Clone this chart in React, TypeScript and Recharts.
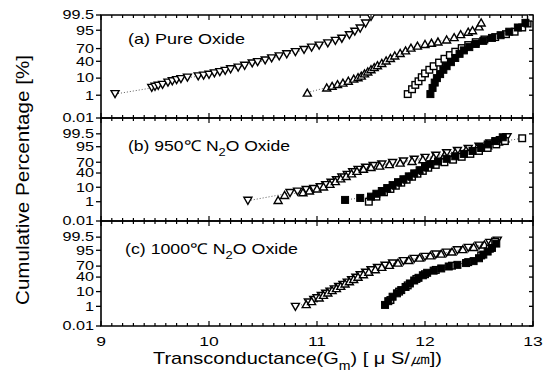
import React from 'react';
import { ScatterChart, Scatter, XAxis, YAxis, ReferenceArea } from 'recharts';

// ---------- data (x = transconductance, p = cumulative %) ----------
const aDownX = [9.13, 9.47, 9.5, 9.53, 9.57, 9.62, 9.66, 9.7, 9.74, 9.8, 9.9, 9.95, 10.0, 10.05, 10.1, 10.15, 10.2, 10.27, 10.33, 10.4, 10.45, 10.52, 10.58, 10.65, 10.72, 10.8, 10.88, 10.95, 11.02, 11.1, 11.17, 11.23, 11.3, 11.35, 11.4, 11.45, 11.5];
const aDownP = [1.2, 3, 3.5, 4, 4.5, 6, 7, 8, 9, 10.5, 12, 13, 14, 16, 18, 20, 23, 26, 30, 35, 38, 42, 47, 52, 57, 62, 67, 72, 76, 80, 84, 87, 91, 94, 96, 98, 99.3];
const aUpX = [10.91, 11.09, 11.14, 11.19, 11.24, 11.29, 11.34, 11.38, 11.41, 11.44, 11.47, 11.5, 11.53, 11.56, 11.6, 11.64, 11.68, 11.72, 11.77, 11.82, 11.87, 11.93, 12.0, 12.06, 12.12, 12.2, 12.27, 12.33, 12.4, 12.44, 12.5, 12.52];
const aUpP = [1.5, 3.2, 4, 5, 6, 7.5, 9.5, 11, 13, 16, 19, 23, 27, 31, 36, 42, 48, 54, 60, 66, 72, 76, 79, 81, 83, 86, 89, 92, 94, 95, 97, 98.3];
const aOpenSqX = [11.84, 11.88, 11.91, 11.94, 11.97, 12.0, 12.04, 12.08, 12.13, 12.18, 12.23, 12.28, 12.34, 12.4, 12.47, 12.55, 12.65, 12.75, 12.83, 12.9, 12.95, 12.98];
const aOpenSqP = [1.2, 2.5, 4.5, 7, 11, 16, 22, 29, 37, 46, 55, 63, 71, 77, 82, 86, 89, 92, 94, 96.5, 98, 99.2];
const aFillSqX = [12.05, 12.07, 12.09, 12.11, 12.14, 12.17, 12.2, 12.24, 12.28, 12.32, 12.36, 12.41, 12.47, 12.54, 12.62, 12.7, 12.78, 12.86, 12.93];
const aFillSqP = [1.2, 3, 6, 10, 15, 22, 29, 38, 48, 58, 66, 73, 79, 84, 88, 91, 94, 96.5, 98.2];

const bDownX = [10.36, 10.75, 10.82, 10.9, 10.97, 11.03, 11.08, 11.13, 11.18, 11.23, 11.28, 11.33, 11.38, 11.45, 11.52, 11.6, 11.7, 11.8, 11.9, 12.0, 12.1, 12.2, 12.3, 12.4, 12.5, 12.6, 12.7, 12.76];
const bDownP = [1.2, 4.5, 5.5, 7, 8, 10, 13, 17, 22, 28, 35, 42, 49, 55, 60, 64, 68, 72, 76, 80, 84, 88, 91, 93, 95, 97, 98.3, 99];
const bUpX = [10.64, 10.7, 10.87, 10.93, 11.0, 11.06, 11.12, 11.17, 11.22, 11.27, 11.32, 11.37, 11.43, 11.5, 11.58, 11.67, 11.77, 11.88, 11.98, 12.08, 12.18, 12.28, 12.38, 12.48, 12.58, 12.68, 12.74];
const bUpP = [1.4, 3.3, 5, 6.5, 8.5, 11, 15, 20, 26, 32, 39, 46, 52, 57, 61, 65, 69, 73, 77, 81, 85, 89, 92, 94, 96, 97.8, 98.8];
const bFillSqX = [11.26, 11.4, 11.5, 11.55, 11.6, 11.65, 11.7, 11.75, 11.8, 11.85, 11.9, 11.95, 12.0, 12.05, 12.12, 12.2, 12.28, 12.36, 12.44, 12.52, 12.58, 12.65, 12.72];
const bFillSqP = [1.4, 2, 2.5, 4, 6, 9, 13, 18, 24, 31, 39, 48, 57, 65, 72, 78, 83, 87, 91, 94, 96.5, 98, 99];
const bOpenSqX = [11.48, 11.55, 11.62, 11.68, 11.73, 11.78, 11.83, 11.88, 11.93, 11.98, 12.03, 12.1, 12.18, 12.26, 12.34, 12.42, 12.5, 12.58, 12.66, 12.74, 12.9];
const bOpenSqP = [1, 2.5, 5, 8, 12, 17, 23, 30, 38, 46, 55, 63, 70, 76, 82, 87, 91, 94, 96.5, 98, 98.8];

const cDownX = [10.8, 10.92, 10.97, 11.0, 11.04, 11.08, 11.12, 11.16, 11.2, 11.24, 11.28, 11.32, 11.36, 11.4, 11.45, 11.5, 11.56, 11.63, 11.7, 11.8, 11.9, 12.0, 12.1, 12.2, 12.3, 12.4, 12.5, 12.6, 12.67];
const cDownP = [0.9, 2, 3, 4, 5.5, 7.5, 10, 13, 17, 21, 26, 32, 38, 45, 52, 59, 65, 71, 76, 81, 85, 88, 91, 93, 95, 96.5, 97.6, 98.5, 99];
const cUpX = [10.9, 10.95, 11.02, 11.06, 11.1, 11.14, 11.18, 11.22, 11.26, 11.3, 11.34, 11.38, 11.43, 11.48, 11.54, 11.6, 11.67, 11.75, 11.85, 11.95, 12.05, 12.15, 12.25, 12.35, 12.45, 12.55, 12.62];
const cUpP = [1.5, 2.5, 4.5, 6.5, 9, 12, 15, 19, 24, 29, 35, 41, 48, 55, 62, 68, 73, 78, 83, 87, 90, 92, 94, 95.8, 97, 98, 98.8];
const cFillSqX = [11.63, 11.66, 11.7, 11.74, 11.78, 11.82, 11.86, 11.9, 11.94, 11.98, 12.02, 12.08, 12.15, 12.22, 12.3, 12.38, 12.45, 12.5, 12.54, 12.58, 12.62, 12.66];
const cFillSqP = [1.3, 2.5, 5, 8, 12, 17, 24, 31, 38, 45, 52, 58, 64, 69, 73, 77, 81, 86, 91, 94, 96.5, 98.3];
const cOpenSqX = [11.68, 11.76, 11.84, 11.92, 12.0, 12.1, 12.25, 12.4, 12.52, 12.6, 12.65];
const cOpenSqP = [3, 10, 20, 35, 48, 60, 71, 79, 90, 96, 98.8];

// ---------- axis ticks ----------
const Y_TICK_PCT = [0.01, 1, 10, 40, 70, 95, 99.5];
const Y_TICK_LABELS = ['0.01', '1', '10', '40', '70', '95', '99.5'];
const X_MAJOR = [9, 10, 11, 12, 13];
const X_MINOR_STEP = 0.1;

const FONT = 'Liberation Sans, Arial, Helvetica, sans-serif';

// inverse normal CDF (probability-paper scale)
function probit(p: number): number {
  const a = [-3.969683028665376e1, 2.209460984245205e2, -2.759285104469687e2, 1.38357751867269e2, -3.066479806614716e1, 2.506628277459239];
  const b = [-5.447609879822406e1, 1.615858368580409e2, -1.556989798598866e2, 6.680131188771972e1, -1.328068155288572e1];
  const c = [-7.784894002430293e-3, -3.223964580411365e-1, -2.400758277161838, -2.549732539343734, 4.374664141464968, 2.938163982698783];
  const d = [7.784695709041462e-3, 3.224671290700398e-1, 2.445134137142996, 3.754408661907416];
  const pl = 0.02425;
  if (p < pl) {
    const q = Math.sqrt(-2 * Math.log(p));
    return (((((c[0] * q + c[1]) * q + c[2]) * q + c[3]) * q + c[4]) * q + c[5]) / ((((d[0] * q + d[1]) * q + d[2]) * q + d[3]) * q + 1);
  }
  if (p <= 1 - pl) {
    const q = p - 0.5;
    const r = q * q;
    return ((((((a[0] * r + a[1]) * r + a[2]) * r + a[3]) * r + a[4]) * r + a[5]) * q) / (((((b[0] * r + b[1]) * r + b[2]) * r + b[3]) * r + b[4]) * r + 1);
  }
  const q = Math.sqrt(-2 * Math.log(1 - p));
  return -(((((c[0] * q + c[1]) * q + c[2]) * q + c[3]) * q + c[4]) * q + c[5]) / ((((d[0] * q + d[1]) * q + d[2]) * q + d[3]) * q + 1);
}

const Y_TICK_Z = Y_TICK_PCT.map((v) => probit(v / 100));
const X_TICKS: number[] = [];
for (let k = 0; k <= Math.round((X_MAJOR[X_MAJOR.length - 1] - X_MAJOR[0]) / X_MINOR_STEP); k++) {
  X_TICKS.push(Math.round((X_MAJOR[0] + k * X_MINOR_STEP) * 10) / 10);
}

const mk = (xs: number[], ps: number[]) => xs.map((x, i) => ({ x, y: probit(ps[i] / 100) }));

// ---------- markers ----------
const SW = 1.4;
const DownTri = (p: any) => {
  const { cx, cy } = p;
  if (cx == null || cy == null) return <g />;
  return <polygon points={`${cx - 4},${cy - 3.5} ${cx + 4},${cy - 3.5} ${cx},${cy + 3.5}`} fill="#fff" stroke="#000" strokeWidth={SW} />;
};
const UpTri = (p: any) => {
  const { cx, cy } = p;
  if (cx == null || cy == null) return <g />;
  return <polygon points={`${cx - 4},${cy + 3.5} ${cx + 4},${cy + 3.5} ${cx},${cy - 3.5}`} fill="#fff" stroke="#000" strokeWidth={SW} />;
};
const OpenSq = (p: any) => {
  const { cx, cy } = p;
  if (cx == null || cy == null) return <g />;
  return <rect x={cx - 3.3} y={cy - 3.3} width={6.6} height={6.6} fill="#fff" stroke="#000" strokeWidth={SW} />;
};
const FillSq = (p: any) => {
  const { cx, cy } = p;
  if (cx == null || cy == null) return <g />;
  return <rect x={cx - 3.5} y={cy - 3.5} width={7} height={7} fill="#000" stroke="#000" strokeWidth={1} />;
};

// ---------- ticks ----------
const LeftTick = (props: any) => {
  const { x, y, payload } = props;
  const idx = Y_TICK_Z.findIndex((v) => Math.abs(v - payload.value) < 1e-6);
  return (
    <g>
      <line x1={x - 5} y1={y} x2={x} y2={y} stroke="#000" strokeWidth={1.3} />
      <g transform={`translate(${x - 7},${y}) scale(1.35,1)`}>
        <text x={0} y={0} dy="0.36em" textAnchor="end" fontSize={12} fontFamily={FONT} fill="#000">
          {idx >= 0 ? Y_TICK_LABELS[idx] : ''}
        </text>
      </g>
    </g>
  );
};
const RightTick = (props: any) => {
  const { x, y } = props;
  return <line x1={x - 4} y1={y} x2={x} y2={y} stroke="#000" strokeWidth={1.3} />;
};
const isMajor = (v: number) => X_MAJOR.some((m) => Math.abs(m - v) < 1e-6);
const TopTick = (props: any) => {
  const { x, y, payload } = props;
  const len = isMajor(payload.value) ? 5 : 3;
  return <line x1={x} y1={y} x2={x} y2={y + len} stroke="#000" strokeWidth={1.2} />;
};
const BottomTick = (props: any) => {
  const { x, y, payload } = props;
  const len = isMajor(payload.value) ? 5 : 3;
  return <line x1={x} y1={y} x2={x} y2={y - len} stroke="#000" strokeWidth={1.2} />;
};
const BottomTickLabeled = (props: any) => {
  const { x, y, payload } = props;
  const major = isMajor(payload.value);
  return (
    <g>
      <line x1={x} y1={y} x2={x} y2={y - (major ? 5 : 3)} stroke="#000" strokeWidth={1.2} />
      {major && (
        <g transform={`translate(${x},${y + 20}) scale(1.3,1)`}>
          <text x={0} y={0} textAnchor="middle" fontSize={13.5} fontFamily={FONT} fill="#000">
            {String(payload.value)}
          </text>
        </g>
      )}
    </g>
  );
};

// ---------- panels ----------
const W = 546;
const H = 374;
const LEFT_W = 101;
const RIGHT_W = 13;
const dotted = { stroke: '#333', strokeWidth: 0.8, strokeDasharray: '1 2' };

type SeriesDef = { data: { x: number; y: number }[]; shape: (p: any) => React.ReactElement };
type PanelDef = { top: number; bottom: number; pMax: number; series: SeriesDef[]; labeled: boolean };

const PANELS: PanelDef[] = [
  {
    top: 15,
    bottom: 118,
    pMax: 99.5,
    labeled: false,
    series: [
      { data: mk(aDownX, aDownP), shape: DownTri },
      { data: mk(aUpX, aUpP), shape: UpTri },
      { data: mk(aOpenSqX, aOpenSqP), shape: OpenSq },
      { data: mk(aFillSqX, aFillSqP), shape: FillSq },
    ],
  },
  {
    top: 118,
    bottom: 221,
    pMax: 99.99,
    labeled: false,
    series: [
      { data: mk(bDownX, bDownP), shape: DownTri },
      { data: mk(bUpX, bUpP), shape: UpTri },
      { data: mk(bOpenSqX, bOpenSqP), shape: OpenSq },
      { data: mk(bFillSqX, bFillSqP), shape: FillSq },
    ],
  },
  {
    top: 221,
    bottom: 326,
    pMax: 99.99,
    labeled: true,
    series: [
      { data: mk(cDownX, cDownP), shape: DownTri },
      { data: mk(cUpX, cUpP), shape: UpTri },
      { data: mk(cOpenSqX, cOpenSqP), shape: OpenSq },
      { data: mk(cFillSqX, cFillSqP), shape: FillSq },
    ],
  },
];

function Panel({ def }: { def: PanelDef }) {
  const zDomain: [number, number] = [probit(0.0001), probit(def.pMax / 100)];
  return (
    <div style={{ position: 'absolute', left: 0, top: 0, width: W, height: H }}>
      <ScatterChart width={W} height={H} margin={{ top: def.top - 1, bottom: H - def.bottom - 1, left: 0, right: 0 }}>
        <XAxis
          xAxisId={0}
          type="number"
          dataKey="x"
          domain={[9, 13]}
          allowDataOverflow
          ticks={X_TICKS}
          interval={0}
          height={1}
          tickSize={0}
          tickMargin={0}
          tickLine={false}
          axisLine={false}
          tick={def.labeled ? BottomTickLabeled : BottomTick}
        />
        <XAxis
          xAxisId="top"
          orientation="top"
          type="number"
          dataKey="x"
          domain={[9, 13]}
          allowDataOverflow
          ticks={X_TICKS}
          interval={0}
          height={1}
          tickSize={0}
          tickMargin={0}
          tickLine={false}
          axisLine={false}
          tick={TopTick}
        />
        <YAxis
          yAxisId={0}
          type="number"
          dataKey="y"
          domain={zDomain}
          allowDataOverflow
          ticks={Y_TICK_Z}
          interval={0}
          width={LEFT_W}
          tickSize={0}
          tickMargin={0}
          tickLine={false}
          axisLine={false}
          tick={LeftTick}
        />
        <YAxis
          yAxisId="right"
          orientation="right"
          type="number"
          dataKey="y"
          domain={zDomain}
          allowDataOverflow
          ticks={Y_TICK_Z}
          interval={0}
          width={RIGHT_W}
          tickSize={0}
          tickMargin={0}
          tickLine={false}
          axisLine={false}
          tick={RightTick}
        />
        <ReferenceArea
          xAxisId={0}
          yAxisId={0}
          x1={9}
          x2={13}
          y1={zDomain[0]}
          y2={zDomain[1]}
          fill="none"
          fillOpacity={0}
          stroke="#000"
          strokeWidth={1.6}
          ifOverflow="visible"
        />
        {def.series.map((s, i) => (
          <Scatter
            key={i}
            xAxisId={0}
            yAxisId={0}
            data={s.data}
            shape={s.shape}
            line={dotted}
            lineType="joint"
            isAnimationActive={false}
          />
        ))}
      </ScatterChart>
    </div>
  );
}

export default function App() {
  return (
    <div style={{ position: 'absolute', left: 0, top: 0, width: W, height: H, background: '#fff', overflow: 'hidden' }}>
      {PANELS.map((p, i) => (
        <Panel key={i} def={p} />
      ))}
      <svg width={W} height={H} style={{ position: 'absolute', left: 0, top: 0, pointerEvents: 'none' }}>
        <g fontFamily={FONT} fill="#000">
          <text x={128} y={44} fontSize={15} textLength={117} lengthAdjust="spacingAndGlyphs">
            (a) Pure Oxide
          </text>
          <text x={128} y={151} fontSize={15} textLength={162} lengthAdjust="spacingAndGlyphs">
            (b) 950℃ N<tspan dy={5} fontSize={11}>2</tspan>
            <tspan dy={-5}>O Oxide</tspan>
          </text>
          <text x={125} y={254} fontSize={15} textLength={173} lengthAdjust="spacingAndGlyphs">
            (c) 1000℃ N<tspan dy={5} fontSize={11}>2</tspan>
            <tspan dy={-5}>O Oxide</tspan>
          </text>
          <text
            transform="translate(29,180) rotate(-90)"
            x={0}
            y={0}
            textAnchor="middle"
            fontSize={18}
            textLength={250}
            lengthAdjust="spacingAndGlyphs"
          >
            Cumulative Percentage [%]
          </text>
          <text x={153} y={364} fontSize={17} textLength={289} lengthAdjust="spacingAndGlyphs">
            Transconductance(G<tspan dy={6} fontSize={12}>m</tspan>
            <tspan dy={-6}>)  [ μ S/㎛])</tspan>
          </text>
        </g>
      </svg>
    </div>
  );
}
